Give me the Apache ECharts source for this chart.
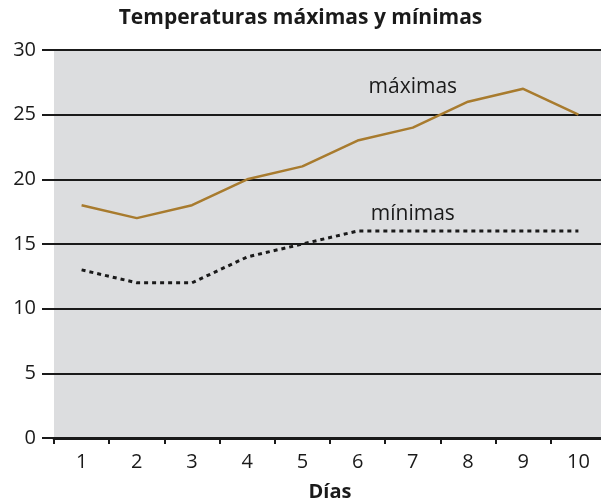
<!DOCTYPE html>
<html>
<head>
<meta charset="utf-8">
<script src="https://cdn.jsdelivr.net/npm/echarts@6/dist/echarts.min.js"></script>
<style>
  html, body { margin: 0; padding: 0; background: #fff; }
  #chart { width: 601px; height: 503px; }
</style>
</head>
<body>
<div id="chart"></div>
<script>
// datos
var dias = ['1', '2', '3', '4', '5', '6', '7', '8', '9', '10'];
var maximas = [18, 17, 18, 20, 21, 23, 24, 26, 27, 25];
var minimas = [13, 12, 12, 14, 15, 16, 16, 16, 16, 16];

var fuente = '"Open Sans", "Noto Sans", sans-serif';

var myChart = echarts.init(document.getElementById('chart'));
myChart.setOption({
  animation: false,
  backgroundColor: '#fff',
  title: {
    text: 'Temperaturas máximas y mínimas',
    left: 'center',
    top: 3,
    textStyle: { fontFamily: fuente, fontSize: 21, fontWeight: 'bold', color: '#1a1a1a' }
  },
  grid: {
    left: 54, top: 50, width: 552, height: 388,
    outerBoundsMode: 'none',
    containLabel: false,
    show: true, backgroundColor: '#dcdddf', borderWidth: 0
  },
  xAxis: {
    type: 'category',
    data: dias,
    boundaryGap: true,
    name: 'Días',
    nameLocation: 'middle',
    nameGap: 44,
    nameTextStyle: { fontFamily: fuente, fontSize: 20, fontWeight: 'bold', color: '#1a1a1a' },
    axisLine: { lineStyle: { color: '#1a1a1a', width: 3 } },
    axisTick: { show: true, length: 6, lineStyle: { color: '#1a1a1a', width: 2 } },
    axisLabel: { margin: 14, fontFamily: fuente, fontSize: 20, color: '#1a1a1a' }
  },
  yAxis: {
    type: 'value',
    min: 0, max: 30, interval: 5,
    axisLine: { show: false },
    axisTick: { show: true, inside: false, length: 12, lineStyle: { color: '#1a1a1a', width: 2 } },
    axisLabel: { margin: 18, fontFamily: fuente, fontSize: 20, color: '#1a1a1a' },
    splitLine: { show: true, lineStyle: { color: '#1a1a1a', width: 2 } }
  },
  series: [
    {
      name: 'máximas',
      type: 'line',
      data: maximas,
      symbol: 'none',
      lineStyle: { color: '#a87b2e', width: 2.5 },
      markPoint: {
        symbol: 'circle', symbolSize: 0,
        label: { show: true, formatter: 'máximas', fontFamily: fuente, fontSize: 21, color: '#1a1a1a' },
        data: [{ coord: ['7', 27.1] }]
      }
    },
    {
      name: 'mínimas',
      type: 'line',
      data: minimas,
      symbol: 'none',
      lineStyle: { color: '#1a1a1a', width: 3, type: [4, 4] },
      markPoint: {
        symbol: 'circle', symbolSize: 0,
        label: { show: true, formatter: 'mínimas', fontFamily: fuente, fontSize: 21, color: '#1a1a1a' },
        data: [{ coord: ['7', 17.3] }]
      }
    }
  ]
});
</script>
</body>
</html>
